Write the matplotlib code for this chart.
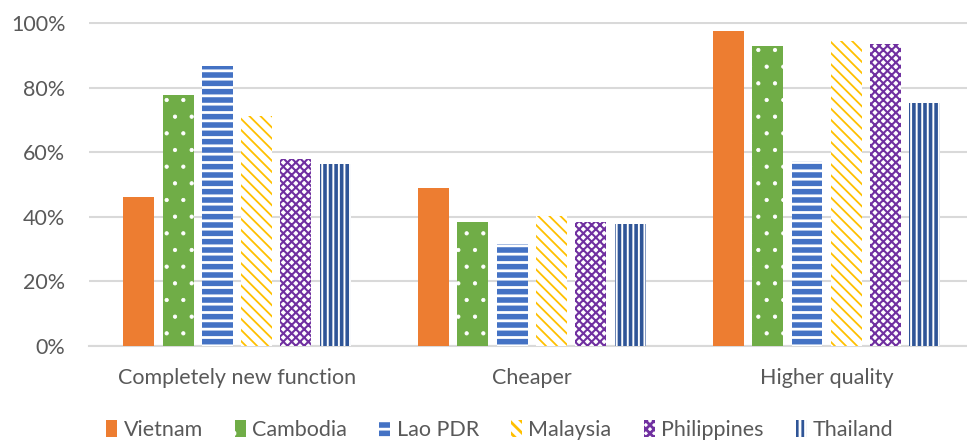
import numpy as np
import matplotlib
matplotlib.use("Agg")
import matplotlib.pyplot as plt
from matplotlib.ticker import PercentFormatter

# Share of firms per country reporting each kind of product change
categories = ["Completely new function", "Cheaper", "Higher quality"]
countries  = ["Vietnam", "Cambodia", "Lao PDR", "Malaysia", "Philippines", "Thailand"]

vietnam     = [46.1, 49.0, 97.5]
cambodia    = [77.7, 38.4, 92.8]
lao_pdr     = [86.7, 31.7, 57.2]
malaysia    = [71.1, 40.1, 94.4]
philippines = [57.9, 38.4, 93.4]
thailand    = [56.4, 37.7, 75.1]

yticks = [0, 20, 40, 60, 80, 100]

series = [vietnam, cambodia, lao_pdr, malaysia, philippines, thailand]

# face colour, hatch colour, hatch pattern, hatch line width
STYLES = [
    ("#ED7D31", "#ED7D31", None,     1.0),
    ("#70AD47", "white",   ".",      0.6),
    ("#4472C4", "white",   "--",     2.0),
    ("white",   "#FFC000", "\\\\\\", 1.3),
    ("white",   "#7030A0", "xxxx",   1.5),
    ("white",   "#2F5597", "|||",    2.6),
]

TEXT  = "#595959"
GRID  = "#D9D9D9"
STEP  = 0.1333
WIDTH = 0.105
FS    = 15.5

plt.rcParams["font.family"] = ["Lato", "DejaVu Sans"]
plt.rcParams["hatch.linewidth"] = 2.0

fig = plt.figure(figsize=(9.67, 4.41), dpi=100)
ax = fig.add_axes([89 / 967, 1 - 346 / 441, 1 - 89 / 967, (346 - 22) / 441])

x = np.arange(len(categories))
bars = []
for i, (vals, (fc, hc, hatch, hlw)) in enumerate(zip(series, STYLES)):
    off = (i - 2.5) * STEP
    b = ax.bar(x + off, vals, width=WIDTH, color=fc, edgecolor=hc,
               hatch=hatch, linewidth=0, label=countries[i], zorder=3)
    for p in b:
        try:
            p.set_hatch_linewidth(hlw)
        except AttributeError:
            pass
    bars.append(b)

ax.set_xlim(-0.502, 2.476)
ax.set_ylim(0, 100.3)
ax.set_yticks(yticks)
ax.yaxis.set_major_formatter(PercentFormatter(decimals=0))
ax.set_xticks(x)
ax.set_xticklabels(categories)

ax.grid(axis="y", color=GRID, linewidth=1.5, zorder=0)
for s in ["top", "right", "left"]:
    ax.spines[s].set_visible(False)
ax.spines["bottom"].set_color(GRID)
ax.spines["bottom"].set_linewidth(1.5)
ax.tick_params(axis="both", length=0, colors=TEXT, labelsize=FS)
ax.tick_params(axis="y", pad=17)
ax.tick_params(axis="x", pad=16)

leg = fig.legend(handles=bars, labels=countries, loc="center", ncol=6,
                 frameon=False, fontsize=FS, handlelength=0.5,
                 handleheight=0.8, handletextpad=0.3, columnspacing=1.5,
                 labelcolor=TEXT)
leg.set_bbox_to_anchor((0.517, 1 - 430 / 441), transform=fig.transFigure)

fig.savefig("out.png", dpi=100)
